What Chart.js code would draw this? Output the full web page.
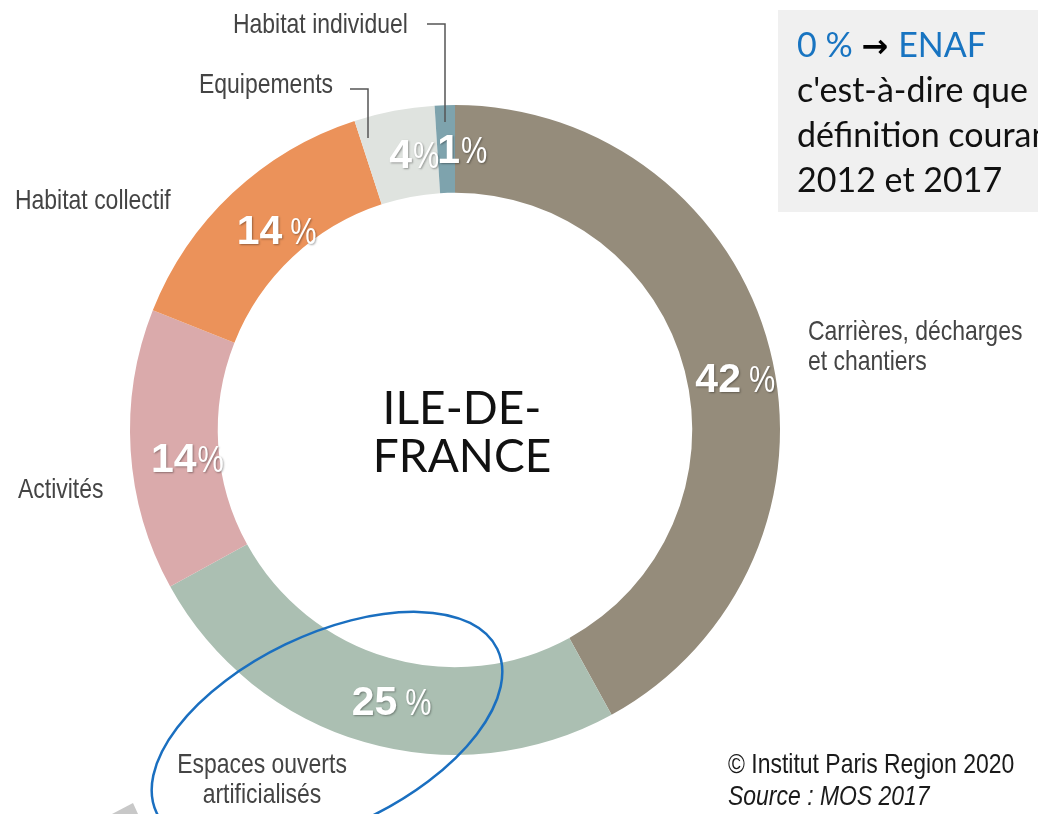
<!DOCTYPE html>
<html>
<head>
<meta charset="utf-8">
<script src="https://cdn.jsdelivr.net/npm/chart.js@4/dist/chart.umd.min.js"></script>
<style>
    body { margin: 0; background: #fff; }
    #wrap { width: 1038px; height: 814px; position: relative; }
</style>
</head>
<body>
<div id="wrap"><canvas id="donut" width="1038" height="814"></canvas></div>
<script>
// Consommation d'espace - Ile-de-France (MOS 2017)
const categories = [
    'Carrières, décharges et chantiers',
    'Espaces ouverts artificialisés',
    'Activités',
    'Habitat collectif',
    'Equipements',
    'Habitat individuel'
];
const shares = [42, 25, 14, 14, 4, 1];
const sliceColors = ['#958c7b', '#abbfb2', '#daaaab', '#eb925a', '#dfe3df', '#7ea3ad'];

const centerTitle = ['ILE-DE-', 'FRANCE'];
const noteLines = ["c'est-à-dire que", 'définition courante', '2012 et 2017'];

const SANS = '"Liberation Sans", Arial, sans-serif';
const NARROW_SCALE = 0.82; // no narrow font installed -> squeeze Liberation Sans

// Percent labels inside the ring: space before % or not, plus small nudge
const pctSpaced = [true, true, false, true, false, false];
const pctNudge = [[8, 17], [15, 0], [13, 9], [14, 4], [12, -1], [16, -1]];

// Category labels placed around the ring
const outerLabels = [
    { lines: ['Carrières, décharges', 'et chantiers'], x: 808, y: 340, align: 'left' },
    { lines: ['Espaces ouverts', 'artificialisés'], x: 262, y: 773, align: 'center' },
    { lines: ['Activités'], x: 18, y: 498, align: 'left' },
    { lines: ['Habitat collectif'], x: 15, y: 209, align: 'left' },
    { lines: ['Equipements'], x: 199, y: 93, align: 'left' },
    { lines: ['Habitat individuel'], x: 233, y: 33, align: 'left' }
];

// draw condensed text by squeezing horizontally
function narrowText(ctx, text, x, y, font, align) {
    ctx.save();
    ctx.font = font;
    ctx.textAlign = align || 'left';
    ctx.translate(x, y);
    ctx.scale(NARROW_SCALE, 1);
    ctx.fillText(text, 0, 0);
    ctx.restore();
}

const decorPlugin = {
    id: 'decor',
    afterDatasetsDraw(chart) {
        const ctx = chart.ctx;
        const arcs = chart.getDatasetMeta(0).data;
        ctx.save();
        ctx.textBaseline = 'alphabetic';

        // percent values
        arcs.forEach((arc, i) => {
            const p = arc.getProps(['x', 'y', 'startAngle', 'endAngle', 'innerRadius', 'outerRadius']);
            const mid = (p.startAngle + p.endAngle) / 2;
            const r = (p.innerRadius + p.outerRadius) / 2;
            const cx = p.x + Math.cos(mid) * r + pctNudge[i][0];
            const cy = p.y + Math.sin(mid) * r + pctNudge[i][1];
            const num = String(shares[i]);
            const numFont = 'bold 41px ' + SANS;
            const pctFont = '36px ' + SANS;
            ctx.font = numFont;
            const wNum = ctx.measureText(num).width;
            ctx.font = pctFont;
            const wPct = ctx.measureText('%').width * NARROW_SCALE;
            const gap = pctSpaced[i] ? 8 : 1;
            const x0 = cx - (wNum + gap + wPct) / 2;
            const base = cy + 15;
            ctx.shadowColor = 'rgba(0,0,0,0.35)';
            ctx.shadowOffsetX = 1;
            ctx.shadowOffsetY = 1;
            ctx.shadowBlur = 2;
            ctx.fillStyle = '#ffffff';
            ctx.textAlign = 'left';
            ctx.font = numFont;
            ctx.fillText(num, x0, base);
            narrowText(ctx, '%', x0 + wNum + gap, base, pctFont, 'left');
        });
        ctx.shadowColor = 'transparent';
        ctx.shadowBlur = 0;
        ctx.shadowOffsetX = 0;
        ctx.shadowOffsetY = 0;

        // leader lines for the two small slices
        ctx.strokeStyle = '#555';
        ctx.lineWidth = 1.5;
        ctx.beginPath();
        ctx.moveTo(427, 24); ctx.lineTo(445, 24); ctx.lineTo(445, 122);
        ctx.moveTo(350, 89); ctx.lineTo(368, 89); ctx.lineTo(368, 138);
        ctx.stroke();

        // category labels
        ctx.fillStyle = '#444';
        outerLabels.forEach(lab => {
            lab.lines.forEach((t, k) => narrowText(ctx, t, lab.x, lab.y + k * 30, '28px ' + SANS, lab.align));
        });

        // centre title
        const c = arcs[0];
        ctx.fillStyle = '#111';
        ctx.textAlign = 'center';
        ctx.font = '46px Lato, "DejaVu Sans", sans-serif';
        ctx.fillText(centerTitle[0], c.x + 7, 424);
        ctx.fillText(centerTitle[1], c.x + 7, 472);

        // copyright / source
        ctx.fillStyle = '#1a1a1a';
        narrowText(ctx, '© Institut Paris Region 2020', 728, 773, '28px ' + SANS, 'left');
        narrowText(ctx, 'Source : MOS 2017', 728, 805, 'italic 28px ' + SANS, 'left');

        // grey note box, top right
        ctx.textAlign = 'left';
        ctx.fillStyle = '#f0f0f0';
        ctx.fillRect(778, 10, 270, 202);
        const noteFont = '34px Lato, "Open Sans", sans-serif';
        ctx.font = noteFont;
        let x = 797;
        ctx.fillStyle = '#1874c1';
        ctx.fillText('0 %', x, 57);
        x += ctx.measureText('0 % ').width;
        ctx.fillStyle = '#000';
        ctx.font = 'bold 32px "DejaVu Sans", sans-serif';
        ctx.fillText('\u2192', x, 57);
        x += ctx.measureText('\u2192').width + 10;
        ctx.font = noteFont;
        ctx.fillStyle = '#1874c1';
        ctx.fillText('ENAF', x, 57);
        ctx.fillStyle = '#111';
        noteLines.forEach((t, k) => ctx.fillText(t, 797, 102 + k * 45));

        // blue hand-drawn ellipse around "Espaces ouverts"
        ctx.strokeStyle = '#1a6fc0';
        ctx.lineWidth = 2.5;
        ctx.beginPath();
        ctx.ellipse(327, 731, 189, 96, -25.7 * Math.PI / 180, 0, Math.PI * 2);
        ctx.stroke();

        // grey arrow stub, bottom left
        ctx.fillStyle = '#c8c8c8';
        ctx.beginPath();
        ctx.moveTo(112, 814); ctx.lineTo(133, 803); ctx.lineTo(138, 814);
        ctx.closePath();
        ctx.fill();

        ctx.restore();
    }
};

const chart = new Chart(document.getElementById('donut').getContext('2d'), {
    type: 'doughnut',
    data: {
        labels: categories,
        datasets: [{
            data: shares,
            backgroundColor: sliceColors,
            borderWidth: 0
        }]
    },
    options: {
        responsive: false,
        animation: false,
        cutout: '73%',
        events: [],
        layout: {
            padding: { left: 130, top: 105, right: 258, bottom: 59 }
        },
        plugins: {
            legend: { display: false },
            tooltip: { enabled: false }
        }
    },
    plugins: [decorPlugin]
});
</script>
</body>
</html>
